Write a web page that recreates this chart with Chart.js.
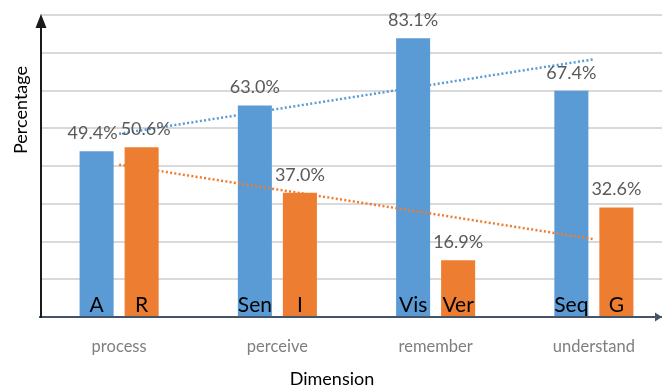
<!DOCTYPE html>
<html>
<head>
<meta charset="utf-8">
<script src="https://cdn.jsdelivr.net/npm/chart.js@4"></script>
<style>
    body { margin: 0; overflow: hidden; background: #fff; }
    #wrap { width: 673px; height: 387px; position: relative; }
</style>
</head>
<body>
<div id="wrap"><canvas id="myChart"></canvas></div>
<script>
const dimensions = ['process', 'perceive', 'remember', 'understand'];
const firstPole = [49.4, 63.0, 83.1, 67.4];
const secondPole = [50.6, 37.0, 16.9, 32.6];
const firstPoleNames = ['A', 'Sen', 'Vis', 'Seq'];
const secondPoleNames = ['R', 'I', 'Ver', 'G'];
// dotted trend lines, ends
const firstTrend = [54.6, null, null, 76.8];
const secondTrend = [45.4, null, null, 23.2];
const yTicks = [0, 11.25, 22.5, 33.75, 45, 56.25, 67.5, 78.75, 90];

const blue = '#5b9bd5';
const orange = '#ed7d31';
const fontName = 'Lato, "Open Sans", sans-serif';

const extrasPlugin = {
    id: 'extras',
    afterDatasetsDraw(chart) {
        const ctx = chart.ctx;
        const names = [firstPoleNames, secondPoleNames];
        ctx.save();
        [0, 1].forEach((di) => {
            const meta = chart.getDatasetMeta(di);
            meta.data.forEach((bar, i) => {
                const value = chart.data.datasets[di].data[i];
                // the first pair of labels is pushed apart so they don't touch
                let shift = 0;
                if (i === 0) {
                    shift = di === 0 ? -4 : 4;
                }
                ctx.fillStyle = '#595959';
                ctx.font = '18px ' + fontName;
                ctx.textAlign = 'center';
                ctx.textBaseline = 'middle';
                ctx.fillText(value.toFixed(1) + '%', bar.x + shift, bar.y - 18);

                ctx.fillStyle = '#000';
                ctx.font = '21px ' + fontName;
                ctx.textBaseline = 'alphabetic';
                ctx.fillText(names[di][i], bar.x, 312);
            });
        });
        ctx.restore();
    },
    afterDraw(chart) {
        const ctx = chart.ctx;
        const area = chart.chartArea;
        const x0 = 41;
        const y0 = area.bottom;
        ctx.save();
        // y axis with arrow
        ctx.strokeStyle = '#1a1a1a';
        ctx.lineWidth = 2;
        ctx.beginPath();
        ctx.moveTo(x0, y0 + 1);
        ctx.lineTo(x0, 26);
        ctx.stroke();
        ctx.fillStyle = '#1a1a1a';
        ctx.beginPath();
        ctx.moveTo(x0, 14);
        ctx.lineTo(x0 - 5.5, 28);
        ctx.lineTo(x0 + 5.5, 28);
        ctx.closePath();
        ctx.fill();
        // x axis arrow at the right edge
        ctx.fillStyle = '#44546a';
        ctx.beginPath();
        ctx.moveTo(662, y0);
        ctx.lineTo(655, y0 - 4.5);
        ctx.lineTo(655, y0 + 4.5);
        ctx.closePath();
        ctx.fill();
        // axis titles
        ctx.fillStyle = '#000';
        ctx.font = '18px ' + fontName;
        ctx.textAlign = 'center';
        ctx.textBaseline = 'middle';
        ctx.fillText('Dimension', 332, 379);
        ctx.translate(21, 110);
        ctx.rotate(-Math.PI / 2);
        ctx.fillText('Percentage', 0, 0);
        ctx.restore();
    }
};

const ctx = document.querySelector('#myChart');

chart = new Chart(ctx, {
    type: 'bar',
    data: {
        labels: dimensions,
        datasets: [
            {
                label: 'first',
                data: firstPole,
                backgroundColor: blue,
                categoryPercentage: 0.569,
                barPercentage: 0.756,
                order: 1,
            },
            {
                label: 'second',
                data: secondPole,
                backgroundColor: orange,
                categoryPercentage: 0.569,
                barPercentage: 0.756,
                order: 1,
            },
            {
                type: 'line',
                label: 'first trend',
                data: firstTrend,
                spanGaps: true,
                borderColor: blue,
                borderWidth: 2.5,
                borderDash: [2, 2.3],
                pointRadius: 0,
                order: 0,
            },
            {
                type: 'line',
                label: 'second trend',
                data: secondTrend,
                spanGaps: true,
                borderColor: orange,
                borderWidth: 2.5,
                borderDash: [2, 2.3],
                pointRadius: 0,
                order: 0,
            },
        ],
    },
    options: {
        responsive: true,
        maintainAspectRatio: false,
        animation: false,
        layout: {
            padding: { left: 40, top: 15, right: 0, bottom: 0 }
        },
        scales: {
            x: {
                offset: true,
                grid: { display: false },
                border: { display: true, color: '#44546a', width: 2 },
                ticks: {
                    color: '#7f7f7f',
                    padding: 12,
                    font: { family: fontName, size: 16.5 }
                },
                afterFit(scale) {
                    scale.height = 70;
                }
            },
            y: {
                min: 0,
                max: 90,
                afterBuildTicks(scale) {
                    scale.ticks = yTicks.map((v) => ({ value: v }));
                },
                ticks: { display: false },
                grid: { color: '#d9d9d9', lineWidth: 2, drawTicks: false },
                border: { display: false }
            }
        },
        plugins: {
            legend: { display: false },
            tooltip: { enabled: false }
        }
    },
    plugins: [extrasPlugin]
});
</script>
</body>
</html>
